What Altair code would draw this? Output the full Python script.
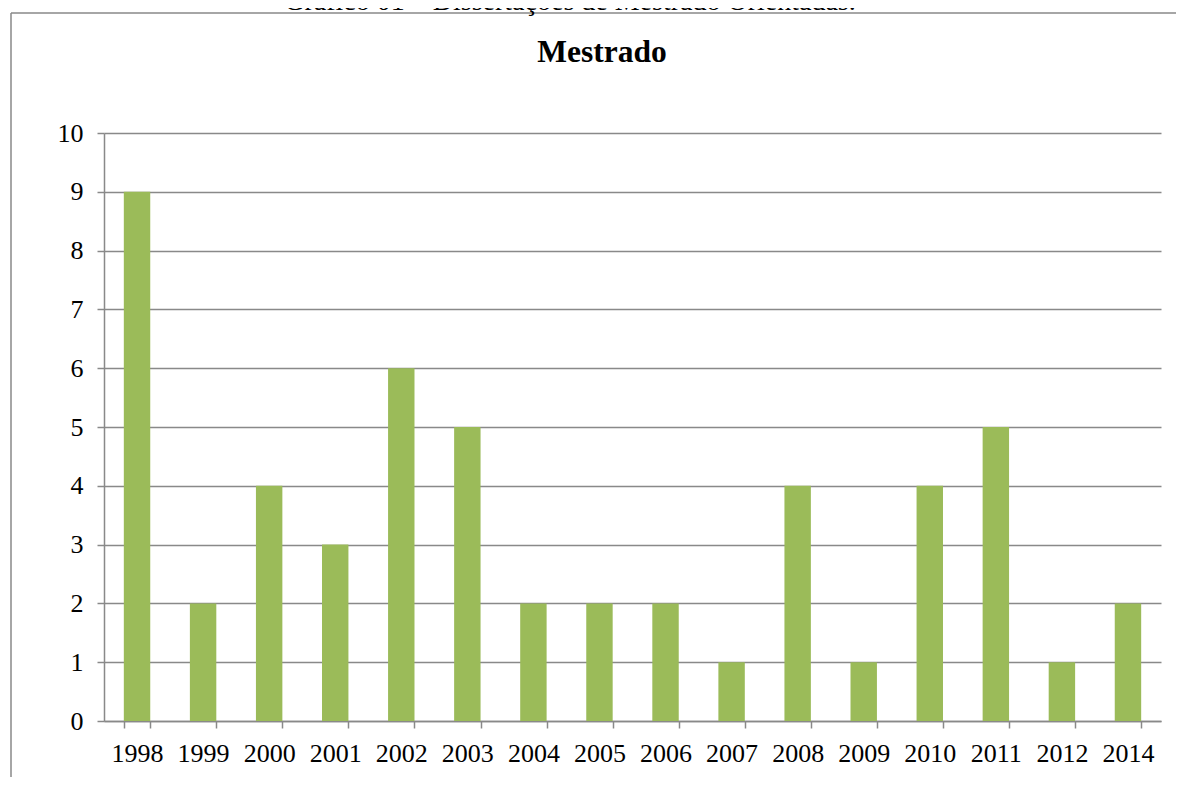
import altair as alt
import pandas as pd

# ---- data ----
years = ["1998", "1999", "2000", "2001", "2002", "2003", "2004", "2005",
         "2006", "2007", "2008", "2009", "2010", "2011", "2012", "2014"]
counts = [9, 2, 4, 3, 6, 5, 2, 2, 2, 1, 4, 1, 4, 5, 1, 2]
y_ticks = list(range(0, 11))
caption = "Gráfico 01 – Dissertações de Mestrado Orientadas."
panel_title = "Mestrado"

df = pd.DataFrame({"ano": years, "n": counts})

W, H = 1057, 588
GREY = "#898989"
FONT = "Liberation Serif"
BAR = "#9BBB59"

one = pd.DataFrame({"k": [0]})
frame_top = alt.Chart(one).mark_rule(color=GREY, strokeWidth=1.5).encode(
    x=alt.value(-93), x2=alt.value(W + 200), y=alt.value(-120)
)
frame_left = alt.Chart(one).mark_rule(color=GREY, strokeWidth=1.5).encode(
    x=alt.value(-93), y=alt.value(-120), y2=alt.value(H + 200)
)

bars = alt.Chart(df).mark_bar(color=BAR).encode(
    x=alt.X(
        "ano:N", sort=years,
        scale=alt.Scale(paddingInner=0.6, paddingOuter=0.3),
        axis=alt.Axis(
            title=None, labelAngle=0, labelFont=FONT, labelFontSize=26,
            labelColor="black", labelPadding=12, tickBand="extent",
            tickSize=7, tickColor=GREY, tickWidth=1.5,
            domainColor=GREY, domainWidth=1.5, grid=False,
        ),
    ),
    y=alt.Y(
        "n:Q",
        scale=alt.Scale(domain=[0, 10], nice=False),
        axis=alt.Axis(
            values=y_ticks, title=None, labelFont=FONT, labelFontSize=26,
            labelColor="black", labelPadding=14, tickSize=7,
            tickColor=GREY, tickWidth=1.5, domainColor=GREY,
            domainWidth=1.5, grid=True, gridColor=GREY, gridWidth=1.3,
        ),
    ),
)

cap = alt.Chart(pd.DataFrame({"t": [caption]})).mark_text(
    font=FONT, fontSize=28, color="black", align="center", baseline="alphabetic"
).encode(x=alt.value(466), y=alt.value(-123), text="t:N")

ttl = alt.Chart(pd.DataFrame({"t": [panel_title]})).mark_text(
    font=FONT, fontSize=31.5, fontWeight="bold", color="black",
    align="center", baseline="alphabetic"
).encode(x=alt.value(498), y=alt.value(-71), text="t:N")

chart = alt.layer(frame_top, frame_left, bars, cap, ttl).properties(
    width=W, height=H,
    padding={"left": 96, "top": 125, "right": 15, "bottom": 56},
    autosize=alt.AutoSizeParams(type="none"),
    background="white",
).configure_view(stroke=None)

chart.save("out.html", embed_options={"renderer": "svg", "actions": False})
